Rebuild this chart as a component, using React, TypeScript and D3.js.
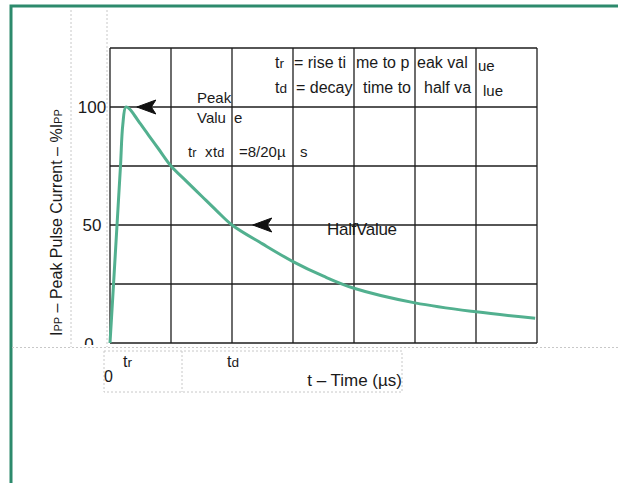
import { useEffect, useRef } from "react";
import * as d3 from "d3";

// waveform (t in µs, value in % of Ipp)
const times = [0, 0.58, 1.15, 1.72, 2.1, 2.6, 3.2, 4, 5, 6, 7, 8, 10, 12.5, 15, 17.5, 20, 25, 30, 35, 40, 50, 60, 69.7];
const values = [0, 25, 50, 75, 92.5, 100, 99.2, 96.5, 92.8, 89.2, 85.6, 82.1, 75, 68.6, 62.3, 56, 50, 42, 34.5, 28.3, 23.2, 17, 13.2, 10.5];

const xGrid = [0, 10, 20, 30, 40, 50, 60, 70];
const yGrid = [0, 25, 50, 75, 100, 125];
const yTickLabels = [100, 50, 0];

// arrow tips (t, value) pointing back at the curve
const arrowTips = [
  { t: 4.4, v: 100 },
  { t: 23.4, v: 50 },
];

const FONT = "'Liberation Sans', Arial, sans-serif";

export default function App() {
  const svgRef = useRef<SVGSVGElement>(null);

  useEffect(() => {
    if (!svgRef.current) return;
    const svg = d3.select(svgRef.current);
    svg.selectAll("*").remove();

    const x = d3.scaleLinear().domain([0, 70]).range([110, 537]);
    const y = d3.scaleLinear().domain([0, 125]).range([343, 48]);

    // outer green frame
    svg
      .append("rect")
      .attr("x", 11)
      .attr("y", 6)
      .attr("width", 700)
      .attr("height", 600)
      .attr("fill", "none")
      .attr("stroke", "#2d8a6c")
      .attr("stroke-width", 3);

    // dashed text-box outlines
    const dash = svg
      .append("g")
      .attr("stroke", "#c8c8c8")
      .attr("stroke-width", 1)
      .attr("stroke-dasharray", "2,2")
      .attr("fill", "none");
    dash.append("line").attr("x1", 71).attr("x2", 71).attr("y1", 10).attr("y2", 347);
    dash.append("line").attr("x1", 107).attr("x2", 107).attr("y1", 10).attr("y2", 347);
    dash.append("line").attr("x1", 12).attr("x2", 618).attr("y1", 347.5).attr("y2", 347.5);
    dash.append("rect").attr("x", 104).attr("y", 351).attr("width", 298).attr("height", 41);
    dash.append("line").attr("x1", 182).attr("x2", 182).attr("y1", 351).attr("y2", 392);

    // grid
    const grid = svg.append("g").attr("stroke", "#1e1e1e").attr("stroke-width", 1.3);
    xGrid.forEach((t) => {
      grid
        .append("line")
        .attr("x1", x(t))
        .attr("x2", x(t))
        .attr("y1", y(125))
        .attr("y2", y(0));
    });
    yGrid.forEach((v) => {
      grid
        .append("line")
        .attr("x1", x(0))
        .attr("x2", x(70))
        .attr("y1", y(v))
        .attr("y2", y(v));
    });

    // curve
    const pts = times.map((t, i) => [t, values[i]] as [number, number]);
    const line = d3
      .line<[number, number]>()
      .x((d) => x(d[0]))
      .y((d) => y(d[1]))
      .curve(d3.curveCatmullRom.alpha(0.5));
    svg
      .append("path")
      .datum(pts)
      .attr("d", line)
      .attr("fill", "none")
      .attr("stroke", "#52b08f")
      .attr("stroke-width", 3)
      .attr("stroke-linejoin", "round");

    // arrowheads
    arrowTips.forEach((a) => {
      const tx = x(a.t);
      const ty = y(a.v);
      svg
        .append("path")
        .attr(
          "d",
          `M${tx},${ty} L${tx + 19},${ty - 7} L${tx + 14.5},${ty} L${tx + 19},${ty + 7} Z`
        )
        .attr("fill", "#111")
        .attr("stroke", "#111")
        .attr("stroke-width", 1)
        .attr("stroke-linejoin", "round");
    });

    // y tick labels
    svg
      .append("clipPath")
      .attr("id", "tickclip")
      .append("rect")
      .attr("x", 0)
      .attr("y", 0)
      .attr("width", 618)
      .attr("height", 345);
    yTickLabels.forEach((v) => {
      svg
        .append("text")
        .attr("x", v === 0 ? 89 : 92)
        .attr("y", v === 0 ? 350 : y(v) + 6)
        .attr("text-anchor", "middle")
        .attr("font-family", FONT)
        .attr("font-size", "17px")
        .attr("fill", "#1a1a1a")
        .attr("clip-path", "url(#tickclip)")
        .text(v);
    });

    // y-axis title
    const yt = svg
      .append("text")
      .attr("transform", "translate(62,336) rotate(-90)")
      .attr("font-family", FONT)
      .attr("font-size", "16px")
      .attr("fill", "#1a1a1a");
    yt.append("tspan").text("I");
    yt.append("tspan").attr("font-size", "11px").text("PP");
    yt.append("tspan").text(" – Peak Pulse Current – %I");
    yt.append("tspan").attr("font-size", "11px").text("PP");

    const txt = (
      xx: number,
      yy: number,
      s: string,
      size = 15,
      anchor = "start"
    ) =>
      svg
        .append("text")
        .attr("x", xx)
        .attr("y", yy)
        .attr("text-anchor", anchor)
        .attr("font-family", FONT)
        .attr("font-size", `${size}px`)
        .attr("fill", "#1a1a1a")
        .text(s);

    const tSub = (xx: number, yy: number, sub: string, size = 15) => {
      const t = svg
        .append("text")
        .attr("x", xx)
        .attr("y", yy)
        .attr("font-family", FONT)
        .attr("font-size", `${size}px`)
        .attr("fill", "#1a1a1a");
      t.append("tspan").text("t");
      t.append("tspan").attr("font-size", `${size * 0.85}px`).text(sub);
      return t;
    };

    // legend text at the top (fragmented as in the source)
    tSub(275, 68, "r", 16);
    txt(294, 68, "= rise ti", 16);
    txt(356, 68, "me to p", 16);
    txt(417, 68, "eak val", 16);
    txt(478, 71, "ue", 15);
    tSub(275, 93, "d", 16);
    txt(296, 93, "= decay", 16);
    txt(363, 93, "time to", 16);
    txt(424, 93, "half va", 16);
    txt(483, 96, "lue", 15);

    // annotations
    txt(197, 103, "Peak");
    txt(197, 123, "Valu");
    txt(234, 123, "e");
    tSub(188, 157, "r");
    txt(205, 157, "x");
    tSub(213, 157, "d");
    txt(239, 157, "=8/20µ");
    txt(300, 157, "s");
    txt(327, 235, "HalfValue", 17).attr("letter-spacing", "-0.3px");

    // x axis labels
    txt(104, 382, "0", 16);
    tSub(123, 367, "r", 16);
    tSub(227, 367, "d", 16);
    txt(402, 386, "t – Time (µs)", 17, "end");
  }, []);

  return (
    <svg
      ref={svgRef}
      width={618}
      height={483}
      style={{ position: "absolute", left: 0, top: 0, background: "#fff" }}
    ></svg>
  );
}
